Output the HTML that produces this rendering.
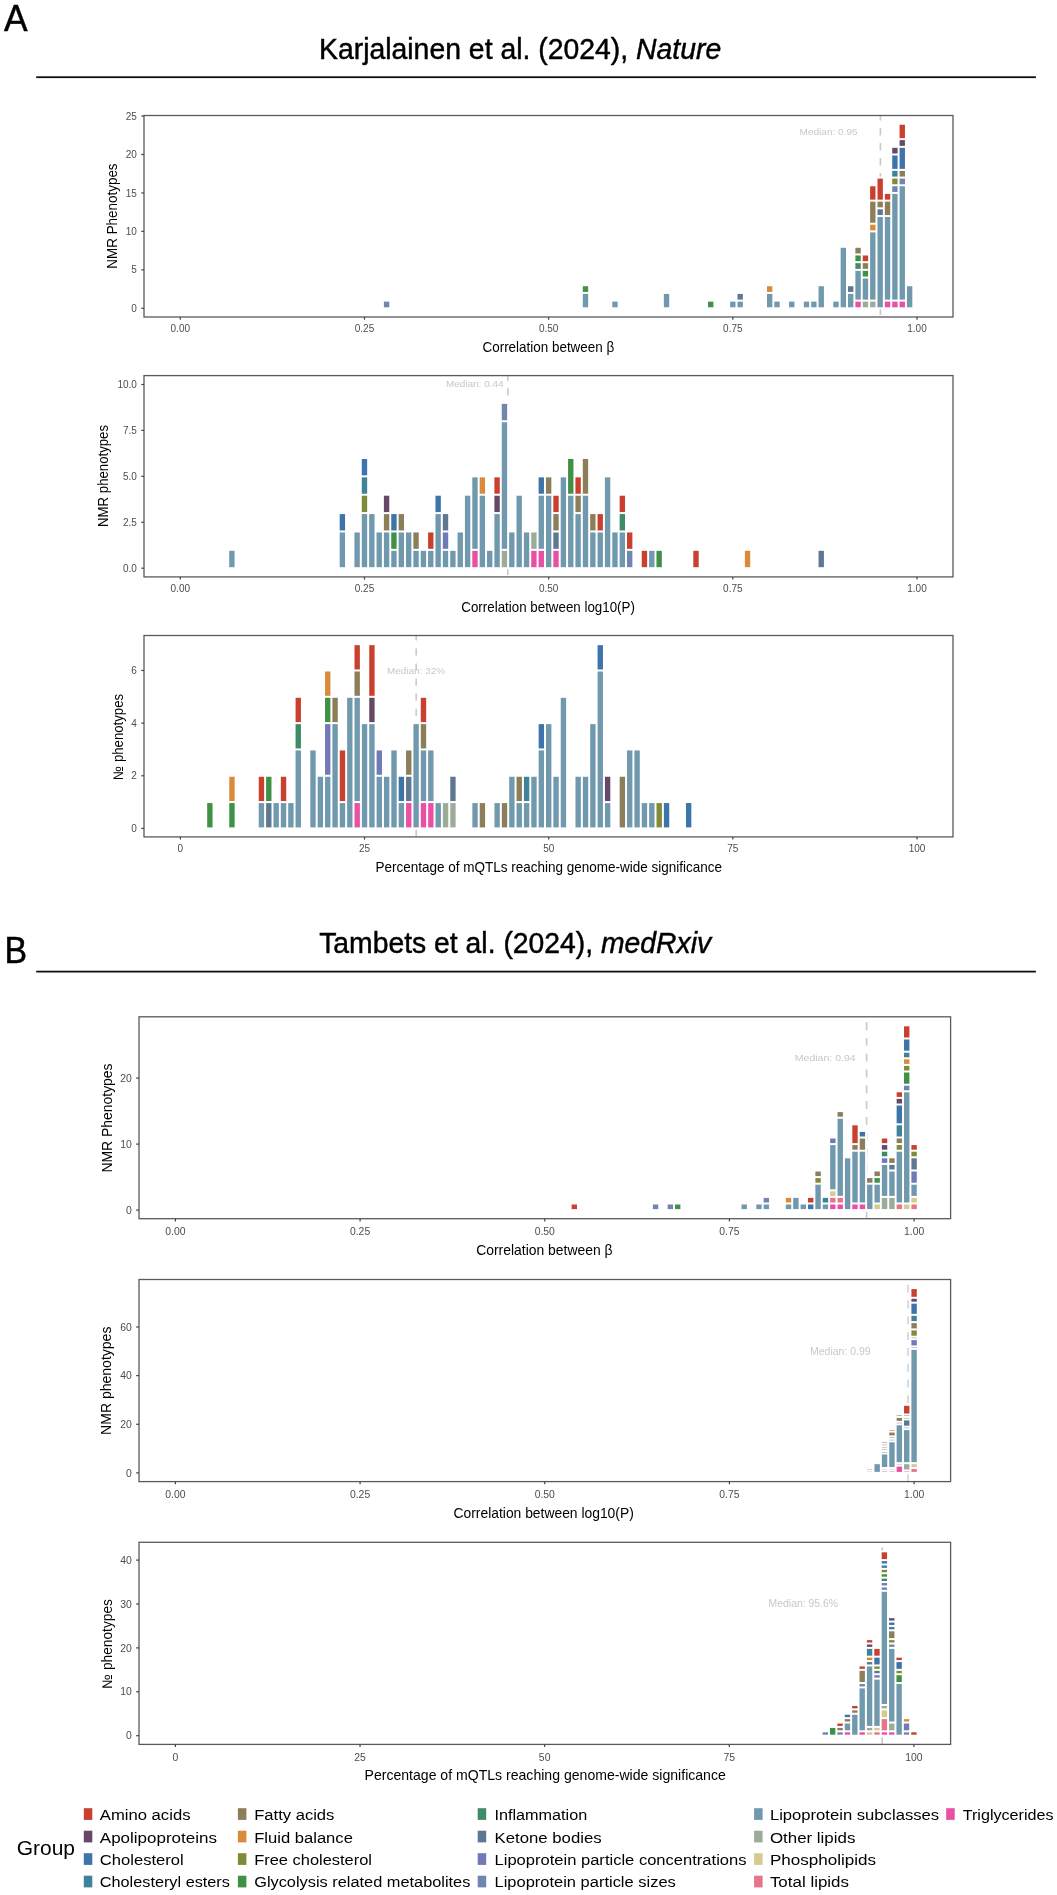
<!DOCTYPE html><html><head><meta charset="utf-8"><style>html,body{margin:0;padding:0;background:#fff;}svg{display:block;font-family:"Liberation Sans", sans-serif;will-change:transform;}</style></head><body>
<svg width="1057" height="1895" viewBox="0 0 1057 1895">
<rect x="0" y="0" width="1057" height="1895" fill="#fff"/>
<text x="4.00" y="30.70" font-size="37.50" fill="#000" text-anchor="start" textLength="23.60" lengthAdjust="spacingAndGlyphs" stroke="#000" stroke-width="0.5">A</text>
<text x="4.60" y="962.50" font-size="37.00" fill="#000" text-anchor="start" textLength="22.60" lengthAdjust="spacingAndGlyphs" stroke="#000" stroke-width="0.5">B</text>
<text x="319.0" y="58.7" font-size="28.6" fill="#000" stroke="#000" stroke-width="0.45" textLength="402.2" lengthAdjust="spacingAndGlyphs">Karjalainen et al. (2024), <tspan font-style="italic">Nature</tspan></text>
<text x="319.2" y="953.3" font-size="28.6" fill="#000" stroke="#000" stroke-width="0.45" textLength="392.0" lengthAdjust="spacingAndGlyphs">Tambets et al. (2024), <tspan font-style="italic">medRxiv</tspan></text>
<rect x="36.2" y="76.3" width="999.7" height="1.8" fill="#111"/>
<rect x="36.2" y="970.7" width="999.7" height="1.8" fill="#111"/>
<line x1="880.40" y1="115.50" x2="880.40" y2="317.00" stroke="#c9c9c9" stroke-width="1.60" stroke-dasharray="7.40 7.55" stroke-dashoffset="2.35"/>
<rect x="381.89" y="299.61" width="9.37" height="9.69" fill="#fff"/>
<rect x="580.80" y="284.23" width="9.37" height="25.07" fill="#fff"/>
<rect x="610.27" y="299.61" width="9.37" height="9.69" fill="#fff"/>
<rect x="661.84" y="291.92" width="9.37" height="17.38" fill="#fff"/>
<rect x="706.04" y="299.61" width="9.37" height="9.69" fill="#fff"/>
<rect x="728.14" y="299.61" width="9.37" height="9.69" fill="#fff"/>
<rect x="735.51" y="291.92" width="9.37" height="17.38" fill="#fff"/>
<rect x="764.98" y="284.23" width="9.37" height="25.07" fill="#fff"/>
<rect x="772.34" y="299.61" width="9.37" height="9.69" fill="#fff"/>
<rect x="787.08" y="299.61" width="9.37" height="9.69" fill="#fff"/>
<rect x="801.81" y="299.61" width="9.37" height="9.69" fill="#fff"/>
<rect x="809.18" y="299.61" width="9.37" height="9.69" fill="#fff"/>
<rect x="816.55" y="284.23" width="9.37" height="25.07" fill="#fff"/>
<rect x="831.28" y="299.61" width="9.37" height="9.69" fill="#fff"/>
<rect x="838.65" y="245.78" width="9.37" height="63.52" fill="#fff"/>
<rect x="846.01" y="284.23" width="9.37" height="25.07" fill="#fff"/>
<rect x="853.38" y="245.78" width="9.37" height="63.52" fill="#fff"/>
<rect x="860.75" y="253.47" width="9.37" height="55.83" fill="#fff"/>
<rect x="868.11" y="184.26" width="9.37" height="125.04" fill="#fff"/>
<rect x="875.48" y="176.57" width="9.37" height="132.73" fill="#fff"/>
<rect x="882.85" y="191.95" width="9.37" height="117.35" fill="#fff"/>
<rect x="890.22" y="145.81" width="9.37" height="163.49" fill="#fff"/>
<rect x="897.58" y="122.74" width="9.37" height="186.56" fill="#fff"/>
<rect x="904.95" y="284.23" width="9.37" height="25.07" fill="#fff"/>
<rect x="383.89" y="301.61" width="5.37" height="5.69" fill="#7086ae"/>
<rect x="582.80" y="293.92" width="5.37" height="13.38" fill="#7099ae"/>
<rect x="582.80" y="286.23" width="5.37" height="5.69" fill="#3f9146"/>
<rect x="612.27" y="301.61" width="5.37" height="5.69" fill="#7099ae"/>
<rect x="663.84" y="293.92" width="5.37" height="13.38" fill="#7099ae"/>
<rect x="708.04" y="301.61" width="5.37" height="5.69" fill="#3f9146"/>
<rect x="730.14" y="301.61" width="5.37" height="5.69" fill="#7099ae"/>
<rect x="737.51" y="301.61" width="5.37" height="5.69" fill="#7099ae"/>
<rect x="737.51" y="293.92" width="5.37" height="5.69" fill="#5e7892"/>
<rect x="766.98" y="293.92" width="5.37" height="13.38" fill="#7099ae"/>
<rect x="766.98" y="286.23" width="5.37" height="5.69" fill="#d98b3a"/>
<rect x="774.34" y="301.61" width="5.37" height="5.69" fill="#7099ae"/>
<rect x="789.08" y="301.61" width="5.37" height="5.69" fill="#7099ae"/>
<rect x="803.81" y="301.61" width="5.37" height="5.69" fill="#7099ae"/>
<rect x="811.18" y="301.61" width="5.37" height="5.69" fill="#7099ae"/>
<rect x="818.55" y="286.23" width="5.37" height="21.07" fill="#7099ae"/>
<rect x="833.28" y="301.61" width="5.37" height="5.69" fill="#7099ae"/>
<rect x="840.65" y="247.78" width="5.37" height="59.52" fill="#7099ae"/>
<rect x="848.01" y="293.92" width="5.37" height="13.38" fill="#7099ae"/>
<rect x="848.01" y="286.23" width="5.37" height="5.69" fill="#5e7892"/>
<rect x="855.38" y="301.61" width="5.37" height="5.69" fill="#e94fa4"/>
<rect x="855.38" y="270.85" width="5.37" height="28.76" fill="#7099ae"/>
<rect x="855.38" y="263.16" width="5.37" height="5.69" fill="#3e8b66"/>
<rect x="855.38" y="255.47" width="5.37" height="5.69" fill="#3f9146"/>
<rect x="855.38" y="247.78" width="5.37" height="5.69" fill="#8b7e58"/>
<rect x="862.75" y="301.61" width="5.37" height="5.69" fill="#9dac99"/>
<rect x="862.75" y="278.54" width="5.37" height="21.07" fill="#7099ae"/>
<rect x="862.75" y="270.85" width="5.37" height="5.69" fill="#3f9146"/>
<rect x="862.75" y="263.16" width="5.37" height="5.69" fill="#8b7e58"/>
<rect x="862.75" y="255.47" width="5.37" height="5.69" fill="#c9412e"/>
<rect x="870.11" y="301.61" width="5.37" height="5.69" fill="#9dac99"/>
<rect x="870.11" y="232.40" width="5.37" height="67.21" fill="#7099ae"/>
<rect x="870.11" y="224.71" width="5.37" height="5.69" fill="#d98b3a"/>
<rect x="870.11" y="201.64" width="5.37" height="21.07" fill="#8b7e58"/>
<rect x="870.11" y="186.26" width="5.37" height="13.38" fill="#c9412e"/>
<rect x="877.48" y="217.02" width="5.37" height="90.28" fill="#7099ae"/>
<rect x="877.48" y="209.33" width="5.37" height="5.69" fill="#5e7892"/>
<rect x="877.48" y="201.64" width="5.37" height="5.69" fill="#8b7e58"/>
<rect x="877.48" y="178.57" width="5.37" height="21.07" fill="#c9412e"/>
<rect x="884.85" y="301.61" width="5.37" height="5.69" fill="#e94fa4"/>
<rect x="884.85" y="217.02" width="5.37" height="82.59" fill="#7099ae"/>
<rect x="884.85" y="201.64" width="5.37" height="13.38" fill="#8b7e58"/>
<rect x="884.85" y="193.95" width="5.37" height="5.69" fill="#c9412e"/>
<rect x="892.22" y="301.61" width="5.37" height="5.69" fill="#e94fa4"/>
<rect x="892.22" y="193.95" width="5.37" height="105.66" fill="#7099ae"/>
<rect x="892.22" y="186.26" width="5.37" height="5.69" fill="#7086ae"/>
<rect x="892.22" y="178.57" width="5.37" height="5.69" fill="#808b37"/>
<rect x="892.22" y="170.88" width="5.37" height="5.69" fill="#3f8299"/>
<rect x="892.22" y="155.50" width="5.37" height="13.38" fill="#3d74aa"/>
<rect x="892.22" y="147.81" width="5.37" height="5.69" fill="#664966"/>
<rect x="899.58" y="301.61" width="5.37" height="5.69" fill="#e94fa4"/>
<rect x="899.58" y="186.26" width="5.37" height="113.35" fill="#7099ae"/>
<rect x="899.58" y="178.57" width="5.37" height="5.69" fill="#7086ae"/>
<rect x="899.58" y="170.88" width="5.37" height="5.69" fill="#8b7e58"/>
<rect x="899.58" y="147.81" width="5.37" height="21.07" fill="#3d74aa"/>
<rect x="899.58" y="140.12" width="5.37" height="5.69" fill="#664966"/>
<rect x="899.58" y="124.74" width="5.37" height="13.38" fill="#c9412e"/>
<rect x="906.95" y="286.23" width="5.37" height="21.07" fill="#7099ae"/>
<text x="799.60" y="134.60" font-size="9.80" fill="#c8c8c8" text-anchor="start" textLength="58.00" lengthAdjust="spacingAndGlyphs">Median: 0.95</text>
<rect x="144.00" y="115.50" width="809.00" height="201.50" fill="none" stroke="#5a5a5a" stroke-width="1.30"/>
<line x1="141.30" y1="308.30" x2="144.00" y2="308.30" stroke="#444" stroke-width="1.2"/>
<text x="136.90" y="311.90" font-size="10.00" fill="#4d4d4d" text-anchor="end">0</text>
<line x1="141.30" y1="269.85" x2="144.00" y2="269.85" stroke="#444" stroke-width="1.2"/>
<text x="136.90" y="273.45" font-size="10.00" fill="#4d4d4d" text-anchor="end">5</text>
<line x1="141.30" y1="231.40" x2="144.00" y2="231.40" stroke="#444" stroke-width="1.2"/>
<text x="136.90" y="235.00" font-size="10.00" fill="#4d4d4d" text-anchor="end">10</text>
<line x1="141.30" y1="192.95" x2="144.00" y2="192.95" stroke="#444" stroke-width="1.2"/>
<text x="136.90" y="196.55" font-size="10.00" fill="#4d4d4d" text-anchor="end">15</text>
<line x1="141.30" y1="154.50" x2="144.00" y2="154.50" stroke="#444" stroke-width="1.2"/>
<text x="136.90" y="158.10" font-size="10.00" fill="#4d4d4d" text-anchor="end">20</text>
<line x1="141.30" y1="116.05" x2="144.00" y2="116.05" stroke="#444" stroke-width="1.2"/>
<text x="136.90" y="119.65" font-size="10.00" fill="#4d4d4d" text-anchor="end">25</text>
<line x1="180.30" y1="317.00" x2="180.30" y2="319.70" stroke="#444" stroke-width="1.2"/>
<text x="180.30" y="331.90" font-size="10.00" fill="#4d4d4d" text-anchor="middle">0.00</text>
<line x1="364.48" y1="317.00" x2="364.48" y2="319.70" stroke="#444" stroke-width="1.2"/>
<text x="364.48" y="331.90" font-size="10.00" fill="#4d4d4d" text-anchor="middle">0.25</text>
<line x1="548.65" y1="317.00" x2="548.65" y2="319.70" stroke="#444" stroke-width="1.2"/>
<text x="548.65" y="331.90" font-size="10.00" fill="#4d4d4d" text-anchor="middle">0.50</text>
<line x1="732.83" y1="317.00" x2="732.83" y2="319.70" stroke="#444" stroke-width="1.2"/>
<text x="732.83" y="331.90" font-size="10.00" fill="#4d4d4d" text-anchor="middle">0.75</text>
<line x1="917.00" y1="317.00" x2="917.00" y2="319.70" stroke="#444" stroke-width="1.2"/>
<text x="917.00" y="331.90" font-size="10.00" fill="#4d4d4d" text-anchor="middle">1.00</text>
<text x="482.50" y="352.30" font-size="13.90" fill="#000" text-anchor="start" textLength="131.70" lengthAdjust="spacingAndGlyphs">Correlation between β</text>
<text x="0" y="0" font-size="13.9" fill="#000" transform="translate(117.30 268.70) rotate(-90)" textLength="105.30" lengthAdjust="spacingAndGlyphs">NMR Phenotypes</text>
<line x1="507.80" y1="375.60" x2="507.80" y2="576.90" stroke="#c9c9c9" stroke-width="1.60" stroke-dasharray="7.40 7.55" stroke-dashoffset="2.35"/>
<rect x="227.19" y="548.83" width="9.37" height="20.37" fill="#fff"/>
<rect x="337.69" y="512.09" width="9.37" height="57.11" fill="#fff"/>
<rect x="352.42" y="530.46" width="9.37" height="38.74" fill="#fff"/>
<rect x="359.79" y="456.98" width="9.37" height="112.22" fill="#fff"/>
<rect x="367.16" y="512.09" width="9.37" height="57.11" fill="#fff"/>
<rect x="374.53" y="530.46" width="9.37" height="38.74" fill="#fff"/>
<rect x="381.89" y="493.72" width="9.37" height="75.48" fill="#fff"/>
<rect x="389.26" y="512.09" width="9.37" height="57.11" fill="#fff"/>
<rect x="396.63" y="512.09" width="9.37" height="57.11" fill="#fff"/>
<rect x="403.99" y="530.46" width="9.37" height="38.74" fill="#fff"/>
<rect x="411.36" y="530.46" width="9.37" height="38.74" fill="#fff"/>
<rect x="418.73" y="548.83" width="9.37" height="20.37" fill="#fff"/>
<rect x="426.09" y="530.46" width="9.37" height="38.74" fill="#fff"/>
<rect x="433.46" y="493.72" width="9.37" height="75.48" fill="#fff"/>
<rect x="440.83" y="512.09" width="9.37" height="57.11" fill="#fff"/>
<rect x="448.20" y="548.83" width="9.37" height="20.37" fill="#fff"/>
<rect x="455.56" y="530.46" width="9.37" height="38.74" fill="#fff"/>
<rect x="462.93" y="493.72" width="9.37" height="75.48" fill="#fff"/>
<rect x="470.30" y="475.35" width="9.37" height="93.85" fill="#fff"/>
<rect x="477.66" y="475.35" width="9.37" height="93.85" fill="#fff"/>
<rect x="485.03" y="548.83" width="9.37" height="20.37" fill="#fff"/>
<rect x="492.40" y="475.35" width="9.37" height="93.85" fill="#fff"/>
<rect x="499.76" y="401.87" width="9.37" height="167.33" fill="#fff"/>
<rect x="507.13" y="530.46" width="9.37" height="38.74" fill="#fff"/>
<rect x="514.50" y="493.72" width="9.37" height="75.48" fill="#fff"/>
<rect x="521.87" y="530.46" width="9.37" height="38.74" fill="#fff"/>
<rect x="529.23" y="530.46" width="9.37" height="38.74" fill="#fff"/>
<rect x="536.60" y="475.35" width="9.37" height="93.85" fill="#fff"/>
<rect x="543.97" y="475.35" width="9.37" height="93.85" fill="#fff"/>
<rect x="551.33" y="493.72" width="9.37" height="75.48" fill="#fff"/>
<rect x="558.70" y="475.35" width="9.37" height="93.85" fill="#fff"/>
<rect x="566.07" y="456.98" width="9.37" height="112.22" fill="#fff"/>
<rect x="573.43" y="475.35" width="9.37" height="93.85" fill="#fff"/>
<rect x="580.80" y="456.98" width="9.37" height="112.22" fill="#fff"/>
<rect x="588.17" y="512.09" width="9.37" height="57.11" fill="#fff"/>
<rect x="595.54" y="512.09" width="9.37" height="57.11" fill="#fff"/>
<rect x="602.90" y="475.35" width="9.37" height="93.85" fill="#fff"/>
<rect x="610.27" y="530.46" width="9.37" height="38.74" fill="#fff"/>
<rect x="617.64" y="493.72" width="9.37" height="75.48" fill="#fff"/>
<rect x="625.00" y="530.46" width="9.37" height="38.74" fill="#fff"/>
<rect x="639.74" y="548.83" width="9.37" height="20.37" fill="#fff"/>
<rect x="647.10" y="548.83" width="9.37" height="20.37" fill="#fff"/>
<rect x="654.47" y="548.83" width="9.37" height="20.37" fill="#fff"/>
<rect x="691.31" y="548.83" width="9.37" height="20.37" fill="#fff"/>
<rect x="742.88" y="548.83" width="9.37" height="20.37" fill="#fff"/>
<rect x="816.55" y="548.83" width="9.37" height="20.37" fill="#fff"/>
<rect x="229.19" y="550.83" width="5.37" height="16.37" fill="#7099ae"/>
<rect x="339.69" y="532.46" width="5.37" height="34.74" fill="#7099ae"/>
<rect x="339.69" y="514.09" width="5.37" height="16.37" fill="#3d74aa"/>
<rect x="354.42" y="532.46" width="5.37" height="34.74" fill="#7099ae"/>
<rect x="361.79" y="514.09" width="5.37" height="53.11" fill="#7099ae"/>
<rect x="361.79" y="495.72" width="5.37" height="16.37" fill="#808b37"/>
<rect x="361.79" y="477.35" width="5.37" height="16.37" fill="#3f8299"/>
<rect x="361.79" y="458.98" width="5.37" height="16.37" fill="#3d74aa"/>
<rect x="369.16" y="514.09" width="5.37" height="53.11" fill="#7099ae"/>
<rect x="376.53" y="532.46" width="5.37" height="34.74" fill="#7099ae"/>
<rect x="383.89" y="532.46" width="5.37" height="34.74" fill="#7099ae"/>
<rect x="383.89" y="514.09" width="5.37" height="16.37" fill="#8b7e58"/>
<rect x="383.89" y="495.72" width="5.37" height="16.37" fill="#664966"/>
<rect x="391.26" y="550.83" width="5.37" height="16.37" fill="#7099ae"/>
<rect x="391.26" y="532.46" width="5.37" height="16.37" fill="#3f9146"/>
<rect x="391.26" y="514.09" width="5.37" height="16.37" fill="#3d74aa"/>
<rect x="398.63" y="532.46" width="5.37" height="34.74" fill="#7099ae"/>
<rect x="398.63" y="514.09" width="5.37" height="16.37" fill="#8b7e58"/>
<rect x="405.99" y="532.46" width="5.37" height="34.74" fill="#7099ae"/>
<rect x="413.36" y="550.83" width="5.37" height="16.37" fill="#7099ae"/>
<rect x="413.36" y="532.46" width="5.37" height="16.37" fill="#8b7e58"/>
<rect x="420.73" y="550.83" width="5.37" height="16.37" fill="#7099ae"/>
<rect x="428.09" y="550.83" width="5.37" height="16.37" fill="#7099ae"/>
<rect x="428.09" y="532.46" width="5.37" height="16.37" fill="#c9412e"/>
<rect x="435.46" y="514.09" width="5.37" height="53.11" fill="#7099ae"/>
<rect x="435.46" y="495.72" width="5.37" height="16.37" fill="#3d74aa"/>
<rect x="442.83" y="550.83" width="5.37" height="16.37" fill="#7099ae"/>
<rect x="442.83" y="532.46" width="5.37" height="16.37" fill="#7179b6"/>
<rect x="442.83" y="514.09" width="5.37" height="16.37" fill="#5e7892"/>
<rect x="450.20" y="550.83" width="5.37" height="16.37" fill="#7099ae"/>
<rect x="457.56" y="532.46" width="5.37" height="34.74" fill="#7099ae"/>
<rect x="464.93" y="495.72" width="5.37" height="71.48" fill="#7099ae"/>
<rect x="472.30" y="550.83" width="5.37" height="16.37" fill="#e94fa4"/>
<rect x="472.30" y="477.35" width="5.37" height="71.48" fill="#7099ae"/>
<rect x="479.66" y="495.72" width="5.37" height="71.48" fill="#7099ae"/>
<rect x="479.66" y="477.35" width="5.37" height="16.37" fill="#d98b3a"/>
<rect x="487.03" y="550.83" width="5.37" height="16.37" fill="#7099ae"/>
<rect x="494.40" y="514.09" width="5.37" height="53.11" fill="#7099ae"/>
<rect x="494.40" y="495.72" width="5.37" height="16.37" fill="#664966"/>
<rect x="494.40" y="477.35" width="5.37" height="16.37" fill="#c9412e"/>
<rect x="501.76" y="550.83" width="5.37" height="16.37" fill="#9dac99"/>
<rect x="501.76" y="422.24" width="5.37" height="126.59" fill="#7099ae"/>
<rect x="501.76" y="403.87" width="5.37" height="16.37" fill="#7086ae"/>
<rect x="509.13" y="532.46" width="5.37" height="34.74" fill="#7099ae"/>
<rect x="516.50" y="495.72" width="5.37" height="71.48" fill="#7099ae"/>
<rect x="523.87" y="532.46" width="5.37" height="34.74" fill="#7099ae"/>
<rect x="531.23" y="550.83" width="5.37" height="16.37" fill="#e94fa4"/>
<rect x="531.23" y="532.46" width="5.37" height="16.37" fill="#9dac99"/>
<rect x="538.60" y="550.83" width="5.37" height="16.37" fill="#e94fa4"/>
<rect x="538.60" y="495.72" width="5.37" height="53.11" fill="#7099ae"/>
<rect x="538.60" y="477.35" width="5.37" height="16.37" fill="#3d74aa"/>
<rect x="545.97" y="495.72" width="5.37" height="71.48" fill="#7099ae"/>
<rect x="545.97" y="477.35" width="5.37" height="16.37" fill="#8b7e58"/>
<rect x="553.33" y="550.83" width="5.37" height="16.37" fill="#e94fa4"/>
<rect x="553.33" y="532.46" width="5.37" height="16.37" fill="#5e7892"/>
<rect x="553.33" y="514.09" width="5.37" height="16.37" fill="#8b7e58"/>
<rect x="553.33" y="495.72" width="5.37" height="16.37" fill="#c9412e"/>
<rect x="560.70" y="477.35" width="5.37" height="89.85" fill="#7099ae"/>
<rect x="568.07" y="495.72" width="5.37" height="71.48" fill="#7099ae"/>
<rect x="568.07" y="458.98" width="5.37" height="34.74" fill="#3f9146"/>
<rect x="575.43" y="514.09" width="5.37" height="53.11" fill="#7099ae"/>
<rect x="575.43" y="495.72" width="5.37" height="16.37" fill="#8b7e58"/>
<rect x="575.43" y="477.35" width="5.37" height="16.37" fill="#c9412e"/>
<rect x="582.80" y="495.72" width="5.37" height="71.48" fill="#7099ae"/>
<rect x="582.80" y="458.98" width="5.37" height="34.74" fill="#8b7e58"/>
<rect x="590.17" y="532.46" width="5.37" height="34.74" fill="#7099ae"/>
<rect x="590.17" y="514.09" width="5.37" height="16.37" fill="#8b7e58"/>
<rect x="597.54" y="532.46" width="5.37" height="34.74" fill="#7099ae"/>
<rect x="597.54" y="514.09" width="5.37" height="16.37" fill="#c9412e"/>
<rect x="604.90" y="477.35" width="5.37" height="89.85" fill="#7099ae"/>
<rect x="612.27" y="532.46" width="5.37" height="34.74" fill="#7099ae"/>
<rect x="619.64" y="532.46" width="5.37" height="34.74" fill="#7099ae"/>
<rect x="619.64" y="514.09" width="5.37" height="16.37" fill="#3e8b66"/>
<rect x="619.64" y="495.72" width="5.37" height="16.37" fill="#c9412e"/>
<rect x="627.00" y="550.83" width="5.37" height="16.37" fill="#7086ae"/>
<rect x="627.00" y="532.46" width="5.37" height="16.37" fill="#c9412e"/>
<rect x="641.74" y="550.83" width="5.37" height="16.37" fill="#c9412e"/>
<rect x="649.10" y="550.83" width="5.37" height="16.37" fill="#7099ae"/>
<rect x="656.47" y="550.83" width="5.37" height="16.37" fill="#3f9146"/>
<rect x="693.31" y="550.83" width="5.37" height="16.37" fill="#c9412e"/>
<rect x="744.88" y="550.83" width="5.37" height="16.37" fill="#d98b3a"/>
<rect x="818.55" y="550.83" width="5.37" height="16.37" fill="#5e7892"/>
<text x="445.90" y="387.00" font-size="9.80" fill="#c8c8c8" text-anchor="start" textLength="57.70" lengthAdjust="spacingAndGlyphs">Median: 0.44</text>
<rect x="144.00" y="375.60" width="809.00" height="201.30" fill="none" stroke="#5a5a5a" stroke-width="1.30"/>
<line x1="141.30" y1="568.20" x2="144.00" y2="568.20" stroke="#444" stroke-width="1.2"/>
<text x="136.90" y="571.80" font-size="10.00" fill="#4d4d4d" text-anchor="end">0.0</text>
<line x1="141.30" y1="522.28" x2="144.00" y2="522.28" stroke="#444" stroke-width="1.2"/>
<text x="136.90" y="525.88" font-size="10.00" fill="#4d4d4d" text-anchor="end">2.5</text>
<line x1="141.30" y1="476.35" x2="144.00" y2="476.35" stroke="#444" stroke-width="1.2"/>
<text x="136.90" y="479.95" font-size="10.00" fill="#4d4d4d" text-anchor="end">5.0</text>
<line x1="141.30" y1="430.43" x2="144.00" y2="430.43" stroke="#444" stroke-width="1.2"/>
<text x="136.90" y="434.03" font-size="10.00" fill="#4d4d4d" text-anchor="end">7.5</text>
<line x1="141.30" y1="384.50" x2="144.00" y2="384.50" stroke="#444" stroke-width="1.2"/>
<text x="136.90" y="388.10" font-size="10.00" fill="#4d4d4d" text-anchor="end">10.0</text>
<line x1="180.30" y1="576.90" x2="180.30" y2="579.60" stroke="#444" stroke-width="1.2"/>
<text x="180.30" y="592.40" font-size="10.00" fill="#4d4d4d" text-anchor="middle">0.00</text>
<line x1="364.48" y1="576.90" x2="364.48" y2="579.60" stroke="#444" stroke-width="1.2"/>
<text x="364.48" y="592.40" font-size="10.00" fill="#4d4d4d" text-anchor="middle">0.25</text>
<line x1="548.65" y1="576.90" x2="548.65" y2="579.60" stroke="#444" stroke-width="1.2"/>
<text x="548.65" y="592.40" font-size="10.00" fill="#4d4d4d" text-anchor="middle">0.50</text>
<line x1="732.83" y1="576.90" x2="732.83" y2="579.60" stroke="#444" stroke-width="1.2"/>
<text x="732.83" y="592.40" font-size="10.00" fill="#4d4d4d" text-anchor="middle">0.75</text>
<line x1="917.00" y1="576.90" x2="917.00" y2="579.60" stroke="#444" stroke-width="1.2"/>
<text x="917.00" y="592.40" font-size="10.00" fill="#4d4d4d" text-anchor="middle">1.00</text>
<text x="461.30" y="612.40" font-size="13.90" fill="#000" text-anchor="start" textLength="173.60" lengthAdjust="spacingAndGlyphs">Correlation between log10(P)</text>
<text x="0" y="0" font-size="13.9" fill="#000" transform="translate(108.20 526.90) rotate(-90)" textLength="101.90" lengthAdjust="spacingAndGlyphs">NMR phenotypes</text>
<line x1="416.20" y1="635.50" x2="416.20" y2="836.90" stroke="#c9c9c9" stroke-width="1.60" stroke-dasharray="7.20 7.90" stroke-dashoffset="2.30"/>
<rect x="205.18" y="801.08" width="9.37" height="28.32" fill="#fff"/>
<rect x="227.28" y="774.76" width="9.37" height="54.64" fill="#fff"/>
<rect x="256.74" y="774.76" width="9.37" height="54.64" fill="#fff"/>
<rect x="264.11" y="774.76" width="9.37" height="54.64" fill="#fff"/>
<rect x="271.48" y="801.08" width="9.37" height="28.32" fill="#fff"/>
<rect x="278.84" y="774.76" width="9.37" height="54.64" fill="#fff"/>
<rect x="286.21" y="801.08" width="9.37" height="28.32" fill="#fff"/>
<rect x="293.57" y="695.80" width="9.37" height="133.60" fill="#fff"/>
<rect x="308.31" y="748.44" width="9.37" height="80.96" fill="#fff"/>
<rect x="315.67" y="774.76" width="9.37" height="54.64" fill="#fff"/>
<rect x="323.04" y="669.48" width="9.37" height="159.92" fill="#fff"/>
<rect x="330.40" y="695.80" width="9.37" height="133.60" fill="#fff"/>
<rect x="337.77" y="748.44" width="9.37" height="80.96" fill="#fff"/>
<rect x="345.13" y="695.80" width="9.37" height="133.60" fill="#fff"/>
<rect x="352.50" y="643.16" width="9.37" height="186.24" fill="#fff"/>
<rect x="359.87" y="722.12" width="9.37" height="107.28" fill="#fff"/>
<rect x="367.23" y="643.16" width="9.37" height="186.24" fill="#fff"/>
<rect x="374.60" y="748.44" width="9.37" height="80.96" fill="#fff"/>
<rect x="381.97" y="774.76" width="9.37" height="54.64" fill="#fff"/>
<rect x="389.33" y="748.44" width="9.37" height="80.96" fill="#fff"/>
<rect x="396.70" y="774.76" width="9.37" height="54.64" fill="#fff"/>
<rect x="404.06" y="748.44" width="9.37" height="80.96" fill="#fff"/>
<rect x="411.43" y="722.12" width="9.37" height="107.28" fill="#fff"/>
<rect x="418.79" y="695.80" width="9.37" height="133.60" fill="#fff"/>
<rect x="426.16" y="748.44" width="9.37" height="80.96" fill="#fff"/>
<rect x="433.53" y="801.08" width="9.37" height="28.32" fill="#fff"/>
<rect x="440.89" y="801.08" width="9.37" height="28.32" fill="#fff"/>
<rect x="448.26" y="774.76" width="9.37" height="54.64" fill="#fff"/>
<rect x="470.36" y="801.08" width="9.37" height="28.32" fill="#fff"/>
<rect x="477.72" y="801.08" width="9.37" height="28.32" fill="#fff"/>
<rect x="492.46" y="801.08" width="9.37" height="28.32" fill="#fff"/>
<rect x="499.82" y="801.08" width="9.37" height="28.32" fill="#fff"/>
<rect x="507.19" y="774.76" width="9.37" height="54.64" fill="#fff"/>
<rect x="514.55" y="774.76" width="9.37" height="54.64" fill="#fff"/>
<rect x="521.92" y="774.76" width="9.37" height="54.64" fill="#fff"/>
<rect x="529.28" y="774.76" width="9.37" height="54.64" fill="#fff"/>
<rect x="536.65" y="722.12" width="9.37" height="107.28" fill="#fff"/>
<rect x="544.02" y="722.12" width="9.37" height="107.28" fill="#fff"/>
<rect x="551.38" y="774.76" width="9.37" height="54.64" fill="#fff"/>
<rect x="558.75" y="695.80" width="9.37" height="133.60" fill="#fff"/>
<rect x="573.48" y="774.76" width="9.37" height="54.64" fill="#fff"/>
<rect x="580.85" y="774.76" width="9.37" height="54.64" fill="#fff"/>
<rect x="588.21" y="722.12" width="9.37" height="107.28" fill="#fff"/>
<rect x="595.58" y="643.16" width="9.37" height="186.24" fill="#fff"/>
<rect x="602.94" y="774.76" width="9.37" height="54.64" fill="#fff"/>
<rect x="617.68" y="774.76" width="9.37" height="54.64" fill="#fff"/>
<rect x="625.04" y="748.44" width="9.37" height="80.96" fill="#fff"/>
<rect x="632.41" y="748.44" width="9.37" height="80.96" fill="#fff"/>
<rect x="639.77" y="801.08" width="9.37" height="28.32" fill="#fff"/>
<rect x="647.14" y="801.08" width="9.37" height="28.32" fill="#fff"/>
<rect x="654.51" y="801.08" width="9.37" height="28.32" fill="#fff"/>
<rect x="661.87" y="801.08" width="9.37" height="28.32" fill="#fff"/>
<rect x="683.97" y="801.08" width="9.37" height="28.32" fill="#fff"/>
<rect x="207.18" y="803.08" width="5.37" height="24.32" fill="#3f9146"/>
<rect x="229.28" y="803.08" width="5.37" height="24.32" fill="#3f9146"/>
<rect x="229.28" y="776.76" width="5.37" height="24.32" fill="#d98b3a"/>
<rect x="258.74" y="803.08" width="5.37" height="24.32" fill="#7099ae"/>
<rect x="258.74" y="776.76" width="5.37" height="24.32" fill="#c9412e"/>
<rect x="266.11" y="803.08" width="5.37" height="24.32" fill="#5e7892"/>
<rect x="266.11" y="776.76" width="5.37" height="24.32" fill="#3f9146"/>
<rect x="273.48" y="803.08" width="5.37" height="24.32" fill="#7099ae"/>
<rect x="280.84" y="803.08" width="5.37" height="24.32" fill="#7099ae"/>
<rect x="280.84" y="776.76" width="5.37" height="24.32" fill="#c9412e"/>
<rect x="288.21" y="803.08" width="5.37" height="24.32" fill="#7099ae"/>
<rect x="295.57" y="750.44" width="5.37" height="76.96" fill="#7099ae"/>
<rect x="295.57" y="724.12" width="5.37" height="24.32" fill="#3e8b66"/>
<rect x="295.57" y="697.80" width="5.37" height="24.32" fill="#c9412e"/>
<rect x="310.31" y="750.44" width="5.37" height="76.96" fill="#7099ae"/>
<rect x="317.67" y="776.76" width="5.37" height="50.64" fill="#7099ae"/>
<rect x="325.04" y="776.76" width="5.37" height="50.64" fill="#7099ae"/>
<rect x="325.04" y="724.12" width="5.37" height="50.64" fill="#7179b6"/>
<rect x="325.04" y="697.80" width="5.37" height="24.32" fill="#3f9146"/>
<rect x="325.04" y="671.48" width="5.37" height="24.32" fill="#d98b3a"/>
<rect x="332.40" y="724.12" width="5.37" height="103.28" fill="#7099ae"/>
<rect x="332.40" y="697.80" width="5.37" height="24.32" fill="#8b7e58"/>
<rect x="339.77" y="803.08" width="5.37" height="24.32" fill="#7099ae"/>
<rect x="339.77" y="750.44" width="5.37" height="50.64" fill="#c9412e"/>
<rect x="347.13" y="697.80" width="5.37" height="129.60" fill="#7099ae"/>
<rect x="354.50" y="803.08" width="5.37" height="24.32" fill="#e94fa4"/>
<rect x="354.50" y="697.80" width="5.37" height="103.28" fill="#7099ae"/>
<rect x="354.50" y="671.48" width="5.37" height="24.32" fill="#8b7e58"/>
<rect x="354.50" y="645.16" width="5.37" height="24.32" fill="#c9412e"/>
<rect x="361.87" y="724.12" width="5.37" height="103.28" fill="#7099ae"/>
<rect x="369.23" y="724.12" width="5.37" height="103.28" fill="#7099ae"/>
<rect x="369.23" y="697.80" width="5.37" height="24.32" fill="#664966"/>
<rect x="369.23" y="645.16" width="5.37" height="50.64" fill="#c9412e"/>
<rect x="376.60" y="776.76" width="5.37" height="50.64" fill="#7099ae"/>
<rect x="376.60" y="750.44" width="5.37" height="24.32" fill="#7179b6"/>
<rect x="383.97" y="776.76" width="5.37" height="50.64" fill="#7099ae"/>
<rect x="391.33" y="750.44" width="5.37" height="76.96" fill="#7099ae"/>
<rect x="398.70" y="803.08" width="5.37" height="24.32" fill="#7099ae"/>
<rect x="398.70" y="776.76" width="5.37" height="24.32" fill="#3d74aa"/>
<rect x="406.06" y="803.08" width="5.37" height="24.32" fill="#e94fa4"/>
<rect x="406.06" y="776.76" width="5.37" height="24.32" fill="#5e7892"/>
<rect x="406.06" y="750.44" width="5.37" height="24.32" fill="#8b7e58"/>
<rect x="413.43" y="724.12" width="5.37" height="103.28" fill="#7099ae"/>
<rect x="420.79" y="803.08" width="5.37" height="24.32" fill="#e94fa4"/>
<rect x="420.79" y="750.44" width="5.37" height="50.64" fill="#7099ae"/>
<rect x="420.79" y="724.12" width="5.37" height="24.32" fill="#8b7e58"/>
<rect x="420.79" y="697.80" width="5.37" height="24.32" fill="#c9412e"/>
<rect x="428.16" y="803.08" width="5.37" height="24.32" fill="#e94fa4"/>
<rect x="428.16" y="750.44" width="5.37" height="50.64" fill="#7099ae"/>
<rect x="435.53" y="803.08" width="5.37" height="24.32" fill="#7099ae"/>
<rect x="442.89" y="803.08" width="5.37" height="24.32" fill="#9dac99"/>
<rect x="450.26" y="803.08" width="5.37" height="24.32" fill="#9dac99"/>
<rect x="450.26" y="776.76" width="5.37" height="24.32" fill="#5e7892"/>
<rect x="472.36" y="803.08" width="5.37" height="24.32" fill="#7099ae"/>
<rect x="479.72" y="803.08" width="5.37" height="24.32" fill="#8b7e58"/>
<rect x="494.46" y="803.08" width="5.37" height="24.32" fill="#7099ae"/>
<rect x="501.82" y="803.08" width="5.37" height="24.32" fill="#8b7e58"/>
<rect x="509.19" y="776.76" width="5.37" height="50.64" fill="#7099ae"/>
<rect x="516.55" y="803.08" width="5.37" height="24.32" fill="#7099ae"/>
<rect x="516.55" y="776.76" width="5.37" height="24.32" fill="#8b7e58"/>
<rect x="523.92" y="803.08" width="5.37" height="24.32" fill="#7099ae"/>
<rect x="523.92" y="776.76" width="5.37" height="24.32" fill="#3f8299"/>
<rect x="531.28" y="776.76" width="5.37" height="50.64" fill="#7099ae"/>
<rect x="538.65" y="750.44" width="5.37" height="76.96" fill="#7099ae"/>
<rect x="538.65" y="724.12" width="5.37" height="24.32" fill="#3d74aa"/>
<rect x="546.02" y="724.12" width="5.37" height="103.28" fill="#7099ae"/>
<rect x="553.38" y="776.76" width="5.37" height="50.64" fill="#7099ae"/>
<rect x="560.75" y="697.80" width="5.37" height="129.60" fill="#7099ae"/>
<rect x="575.48" y="776.76" width="5.37" height="50.64" fill="#7099ae"/>
<rect x="582.85" y="776.76" width="5.37" height="50.64" fill="#7099ae"/>
<rect x="590.21" y="724.12" width="5.37" height="103.28" fill="#7099ae"/>
<rect x="597.58" y="671.48" width="5.37" height="155.92" fill="#7099ae"/>
<rect x="597.58" y="645.16" width="5.37" height="24.32" fill="#3d74aa"/>
<rect x="604.94" y="803.08" width="5.37" height="24.32" fill="#7099ae"/>
<rect x="604.94" y="776.76" width="5.37" height="24.32" fill="#664966"/>
<rect x="619.68" y="776.76" width="5.37" height="50.64" fill="#8b7e58"/>
<rect x="627.04" y="750.44" width="5.37" height="76.96" fill="#7099ae"/>
<rect x="634.41" y="750.44" width="5.37" height="76.96" fill="#7099ae"/>
<rect x="641.77" y="803.08" width="5.37" height="24.32" fill="#7099ae"/>
<rect x="649.14" y="803.08" width="5.37" height="24.32" fill="#7099ae"/>
<rect x="656.51" y="803.08" width="5.37" height="24.32" fill="#808b37"/>
<rect x="663.87" y="803.08" width="5.37" height="24.32" fill="#3d74aa"/>
<rect x="685.97" y="803.08" width="5.37" height="24.32" fill="#3d74aa"/>
<text x="387.00" y="673.80" font-size="9.80" fill="#c8c8c8" text-anchor="start" textLength="58.10" lengthAdjust="spacingAndGlyphs">Median: 32%</text>
<rect x="144.00" y="635.50" width="809.00" height="201.40" fill="none" stroke="#5a5a5a" stroke-width="1.30"/>
<line x1="141.30" y1="828.40" x2="144.00" y2="828.40" stroke="#444" stroke-width="1.2"/>
<text x="136.90" y="832.00" font-size="10.00" fill="#4d4d4d" text-anchor="end">0</text>
<line x1="141.30" y1="775.76" x2="144.00" y2="775.76" stroke="#444" stroke-width="1.2"/>
<text x="136.90" y="779.36" font-size="10.00" fill="#4d4d4d" text-anchor="end">2</text>
<line x1="141.30" y1="723.12" x2="144.00" y2="723.12" stroke="#444" stroke-width="1.2"/>
<text x="136.90" y="726.72" font-size="10.00" fill="#4d4d4d" text-anchor="end">4</text>
<line x1="141.30" y1="670.48" x2="144.00" y2="670.48" stroke="#444" stroke-width="1.2"/>
<text x="136.90" y="674.08" font-size="10.00" fill="#4d4d4d" text-anchor="end">6</text>
<line x1="180.40" y1="836.90" x2="180.40" y2="839.60" stroke="#444" stroke-width="1.2"/>
<text x="180.40" y="852.40" font-size="10.00" fill="#4d4d4d" text-anchor="middle">0</text>
<line x1="364.55" y1="836.90" x2="364.55" y2="839.60" stroke="#444" stroke-width="1.2"/>
<text x="364.55" y="852.40" font-size="10.00" fill="#4d4d4d" text-anchor="middle">25</text>
<line x1="548.70" y1="836.90" x2="548.70" y2="839.60" stroke="#444" stroke-width="1.2"/>
<text x="548.70" y="852.40" font-size="10.00" fill="#4d4d4d" text-anchor="middle">50</text>
<line x1="732.85" y1="836.90" x2="732.85" y2="839.60" stroke="#444" stroke-width="1.2"/>
<text x="732.85" y="852.40" font-size="10.00" fill="#4d4d4d" text-anchor="middle">75</text>
<line x1="917.00" y1="836.90" x2="917.00" y2="839.60" stroke="#444" stroke-width="1.2"/>
<text x="917.00" y="852.40" font-size="10.00" fill="#4d4d4d" text-anchor="middle">100</text>
<text x="375.50" y="871.60" font-size="13.90" fill="#000" text-anchor="start" textLength="346.50" lengthAdjust="spacingAndGlyphs">Percentage of mQTLs reaching genome-wide significance</text>
<text x="0" y="0" font-size="13.9" fill="#000" transform="translate(122.60 779.90) rotate(-90)" textLength="86.00" lengthAdjust="spacingAndGlyphs">№ phenotypes</text>
<line x1="866.60" y1="1016.80" x2="866.60" y2="1218.70" stroke="#c9c9c9" stroke-width="1.60" stroke-dasharray="7.90 7.90" stroke-dashoffset="10.50"/>
<rect x="569.60" y="1202.50" width="9.39" height="8.60" fill="#fff"/>
<rect x="650.86" y="1202.50" width="9.39" height="8.60" fill="#fff"/>
<rect x="665.64" y="1202.50" width="9.39" height="8.60" fill="#fff"/>
<rect x="673.02" y="1202.50" width="9.39" height="8.60" fill="#fff"/>
<rect x="739.51" y="1202.50" width="9.39" height="8.60" fill="#fff"/>
<rect x="754.28" y="1202.50" width="9.39" height="8.60" fill="#fff"/>
<rect x="761.67" y="1195.90" width="9.39" height="15.20" fill="#fff"/>
<rect x="783.83" y="1195.90" width="9.39" height="15.20" fill="#fff"/>
<rect x="791.21" y="1195.90" width="9.39" height="15.20" fill="#fff"/>
<rect x="798.60" y="1202.50" width="9.39" height="8.60" fill="#fff"/>
<rect x="805.99" y="1195.90" width="9.39" height="15.20" fill="#fff"/>
<rect x="813.38" y="1169.50" width="9.39" height="41.60" fill="#fff"/>
<rect x="820.76" y="1195.90" width="9.39" height="15.20" fill="#fff"/>
<rect x="828.15" y="1136.50" width="9.39" height="74.60" fill="#fff"/>
<rect x="835.54" y="1110.10" width="9.39" height="101.00" fill="#fff"/>
<rect x="842.92" y="1156.30" width="9.39" height="54.80" fill="#fff"/>
<rect x="850.31" y="1123.30" width="9.39" height="87.80" fill="#fff"/>
<rect x="857.70" y="1129.90" width="9.39" height="81.20" fill="#fff"/>
<rect x="865.08" y="1176.10" width="9.39" height="35.00" fill="#fff"/>
<rect x="872.47" y="1169.50" width="9.39" height="41.60" fill="#fff"/>
<rect x="879.86" y="1136.50" width="9.39" height="74.60" fill="#fff"/>
<rect x="887.25" y="1156.30" width="9.39" height="54.80" fill="#fff"/>
<rect x="894.63" y="1090.30" width="9.39" height="120.80" fill="#fff"/>
<rect x="902.02" y="1024.30" width="9.39" height="186.80" fill="#fff"/>
<rect x="909.41" y="1143.10" width="9.39" height="68.00" fill="#fff"/>
<rect x="571.60" y="1204.50" width="5.39" height="4.60" fill="#c9412e"/>
<rect x="652.86" y="1204.50" width="5.39" height="4.60" fill="#7086ae"/>
<rect x="667.64" y="1204.50" width="5.39" height="4.60" fill="#7086ae"/>
<rect x="675.02" y="1204.50" width="5.39" height="4.60" fill="#3f9146"/>
<rect x="741.51" y="1204.50" width="5.39" height="4.60" fill="#7099ae"/>
<rect x="756.28" y="1204.50" width="5.39" height="4.60" fill="#7099ae"/>
<rect x="763.67" y="1204.50" width="5.39" height="4.60" fill="#7099ae"/>
<rect x="763.67" y="1197.90" width="5.39" height="4.60" fill="#7086ae"/>
<rect x="785.83" y="1204.50" width="5.39" height="4.60" fill="#7099ae"/>
<rect x="785.83" y="1197.90" width="5.39" height="4.60" fill="#d98b3a"/>
<rect x="793.21" y="1197.90" width="5.39" height="11.20" fill="#7099ae"/>
<rect x="800.60" y="1204.50" width="5.39" height="4.60" fill="#7099ae"/>
<rect x="807.99" y="1204.50" width="5.39" height="4.60" fill="#3d74aa"/>
<rect x="807.99" y="1197.90" width="5.39" height="4.60" fill="#c9412e"/>
<rect x="815.38" y="1184.70" width="5.39" height="24.40" fill="#7099ae"/>
<rect x="815.38" y="1178.10" width="5.39" height="4.60" fill="#808b37"/>
<rect x="815.38" y="1171.50" width="5.39" height="4.60" fill="#8b7e58"/>
<rect x="822.76" y="1204.50" width="5.39" height="4.60" fill="#7099ae"/>
<rect x="822.76" y="1197.90" width="5.39" height="4.60" fill="#3f8299"/>
<rect x="830.15" y="1204.50" width="5.39" height="4.60" fill="#e94fa4"/>
<rect x="830.15" y="1197.90" width="5.39" height="4.60" fill="#e6758c"/>
<rect x="830.15" y="1191.30" width="5.39" height="4.60" fill="#d6cb8c"/>
<rect x="830.15" y="1145.10" width="5.39" height="44.20" fill="#7099ae"/>
<rect x="830.15" y="1138.50" width="5.39" height="4.60" fill="#7179b6"/>
<rect x="837.54" y="1204.50" width="5.39" height="4.60" fill="#e94fa4"/>
<rect x="837.54" y="1197.90" width="5.39" height="4.60" fill="#e6758c"/>
<rect x="837.54" y="1118.70" width="5.39" height="77.20" fill="#7099ae"/>
<rect x="837.54" y="1112.10" width="5.39" height="4.60" fill="#8b7e58"/>
<rect x="844.92" y="1158.30" width="5.39" height="50.80" fill="#7099ae"/>
<rect x="852.31" y="1204.50" width="5.39" height="4.60" fill="#e94fa4"/>
<rect x="852.31" y="1151.70" width="5.39" height="50.80" fill="#7099ae"/>
<rect x="852.31" y="1145.10" width="5.39" height="4.60" fill="#8b7e58"/>
<rect x="852.31" y="1125.30" width="5.39" height="17.80" fill="#c9412e"/>
<rect x="859.70" y="1204.50" width="5.39" height="4.60" fill="#e94fa4"/>
<rect x="859.70" y="1151.70" width="5.39" height="50.80" fill="#7099ae"/>
<rect x="859.70" y="1138.50" width="5.39" height="11.20" fill="#8b7e58"/>
<rect x="859.70" y="1131.90" width="5.39" height="4.60" fill="#3d74aa"/>
<rect x="867.08" y="1184.70" width="5.39" height="24.40" fill="#7099ae"/>
<rect x="867.08" y="1178.10" width="5.39" height="4.60" fill="#8b7e58"/>
<rect x="874.47" y="1204.50" width="5.39" height="4.60" fill="#d6cb8c"/>
<rect x="874.47" y="1184.70" width="5.39" height="17.80" fill="#7099ae"/>
<rect x="874.47" y="1178.10" width="5.39" height="4.60" fill="#3f9146"/>
<rect x="874.47" y="1171.50" width="5.39" height="4.60" fill="#8b7e58"/>
<rect x="881.86" y="1197.90" width="5.39" height="11.20" fill="#9dac99"/>
<rect x="881.86" y="1164.90" width="5.39" height="31.00" fill="#7099ae"/>
<rect x="881.86" y="1158.30" width="5.39" height="4.60" fill="#7179b6"/>
<rect x="881.86" y="1151.70" width="5.39" height="4.60" fill="#3e8b66"/>
<rect x="881.86" y="1145.10" width="5.39" height="4.60" fill="#664966"/>
<rect x="881.86" y="1138.50" width="5.39" height="4.60" fill="#c9412e"/>
<rect x="889.25" y="1197.90" width="5.39" height="11.20" fill="#9dac99"/>
<rect x="889.25" y="1171.50" width="5.39" height="24.40" fill="#7099ae"/>
<rect x="889.25" y="1164.90" width="5.39" height="4.60" fill="#5e7892"/>
<rect x="889.25" y="1158.30" width="5.39" height="4.60" fill="#8b7e58"/>
<rect x="896.63" y="1204.50" width="5.39" height="4.60" fill="#e6758c"/>
<rect x="896.63" y="1151.70" width="5.39" height="50.80" fill="#7099ae"/>
<rect x="896.63" y="1145.10" width="5.39" height="4.60" fill="#808b37"/>
<rect x="896.63" y="1138.50" width="5.39" height="4.60" fill="#8b7e58"/>
<rect x="896.63" y="1125.30" width="5.39" height="11.20" fill="#3f8299"/>
<rect x="896.63" y="1105.50" width="5.39" height="17.80" fill="#3d74aa"/>
<rect x="896.63" y="1098.90" width="5.39" height="4.60" fill="#664966"/>
<rect x="896.63" y="1092.30" width="5.39" height="4.60" fill="#c9412e"/>
<rect x="904.02" y="1204.50" width="5.39" height="4.60" fill="#d6cb8c"/>
<rect x="904.02" y="1092.30" width="5.39" height="110.20" fill="#7099ae"/>
<rect x="904.02" y="1085.70" width="5.39" height="4.60" fill="#7086ae"/>
<rect x="904.02" y="1072.50" width="5.39" height="11.20" fill="#3f9146"/>
<rect x="904.02" y="1065.90" width="5.39" height="4.60" fill="#808b37"/>
<rect x="904.02" y="1059.30" width="5.39" height="4.60" fill="#d98b3a"/>
<rect x="904.02" y="1052.70" width="5.39" height="4.60" fill="#3f8299"/>
<rect x="904.02" y="1039.50" width="5.39" height="11.20" fill="#3d74aa"/>
<rect x="904.02" y="1026.30" width="5.39" height="11.20" fill="#c9412e"/>
<rect x="911.41" y="1204.50" width="5.39" height="4.60" fill="#e6758c"/>
<rect x="911.41" y="1197.90" width="5.39" height="4.60" fill="#d6cb8c"/>
<rect x="911.41" y="1184.70" width="5.39" height="11.20" fill="#7099ae"/>
<rect x="911.41" y="1171.50" width="5.39" height="11.20" fill="#7179b6"/>
<rect x="911.41" y="1158.30" width="5.39" height="11.20" fill="#5e7892"/>
<rect x="911.41" y="1151.70" width="5.39" height="4.60" fill="#808b37"/>
<rect x="911.41" y="1145.10" width="5.39" height="4.60" fill="#c9412e"/>
<text x="794.80" y="1060.90" font-size="9.80" fill="#c8c8c8" text-anchor="start" textLength="60.90" lengthAdjust="spacingAndGlyphs">Median: 0.94</text>
<rect x="139.00" y="1016.80" width="811.60" height="201.90" fill="none" stroke="#5a5a5a" stroke-width="1.30"/>
<line x1="136.10" y1="1210.10" x2="139.00" y2="1210.10" stroke="#444" stroke-width="1.2"/>
<text x="131.80" y="1213.70" font-size="10.40" fill="#4d4d4d" text-anchor="end">0</text>
<line x1="136.10" y1="1144.10" x2="139.00" y2="1144.10" stroke="#444" stroke-width="1.2"/>
<text x="131.80" y="1147.70" font-size="10.40" fill="#4d4d4d" text-anchor="end">10</text>
<line x1="136.10" y1="1078.10" x2="139.00" y2="1078.10" stroke="#444" stroke-width="1.2"/>
<text x="131.80" y="1081.70" font-size="10.40" fill="#4d4d4d" text-anchor="end">20</text>
<line x1="175.40" y1="1218.70" x2="175.40" y2="1221.40" stroke="#444" stroke-width="1.2"/>
<text x="175.40" y="1234.80" font-size="10.40" fill="#4d4d4d" text-anchor="middle">0.00</text>
<line x1="360.08" y1="1218.70" x2="360.08" y2="1221.40" stroke="#444" stroke-width="1.2"/>
<text x="360.08" y="1234.80" font-size="10.40" fill="#4d4d4d" text-anchor="middle">0.25</text>
<line x1="544.75" y1="1218.70" x2="544.75" y2="1221.40" stroke="#444" stroke-width="1.2"/>
<text x="544.75" y="1234.80" font-size="10.40" fill="#4d4d4d" text-anchor="middle">0.50</text>
<line x1="729.43" y1="1218.70" x2="729.43" y2="1221.40" stroke="#444" stroke-width="1.2"/>
<text x="729.43" y="1234.80" font-size="10.40" fill="#4d4d4d" text-anchor="middle">0.75</text>
<line x1="914.10" y1="1218.70" x2="914.10" y2="1221.40" stroke="#444" stroke-width="1.2"/>
<text x="914.10" y="1234.80" font-size="10.40" fill="#4d4d4d" text-anchor="middle">1.00</text>
<text x="476.20" y="1254.80" font-size="13.90" fill="#000" text-anchor="start" textLength="136.30" lengthAdjust="spacingAndGlyphs">Correlation between β</text>
<text x="0" y="0" font-size="13.9" fill="#000" transform="translate(111.60 1172.60) rotate(-90)" textLength="109.20" lengthAdjust="spacingAndGlyphs">NMR Phenotypes</text>
<line x1="908.00" y1="1279.50" x2="908.00" y2="1481.60" stroke="#b8b8b8" stroke-width="1.00" stroke-dasharray="7.90 7.90" stroke-dashoffset="10.50"/>
<rect x="865.08" y="1467.04" width="9.39" height="6.86" fill="#fff"/>
<rect x="872.47" y="1462.17" width="9.39" height="11.73" fill="#fff"/>
<rect x="879.86" y="1440.28" width="9.39" height="33.62" fill="#fff"/>
<rect x="887.25" y="1428.12" width="9.39" height="45.78" fill="#fff"/>
<rect x="894.63" y="1413.53" width="9.39" height="60.37" fill="#fff"/>
<rect x="902.02" y="1403.80" width="9.39" height="70.10" fill="#fff"/>
<rect x="909.41" y="1287.07" width="9.39" height="186.83" fill="#fff"/>
<rect x="867.08" y="1471.47" width="5.39" height="0.43" fill="#d6cb8c"/>
<rect x="867.08" y="1469.04" width="5.39" height="0.43" fill="#7099ae"/>
<rect x="874.47" y="1464.17" width="5.39" height="7.73" fill="#7099ae"/>
<rect x="881.86" y="1471.47" width="5.39" height="0.43" fill="#e6758c"/>
<rect x="881.86" y="1469.04" width="5.39" height="0.43" fill="#d6cb8c"/>
<rect x="881.86" y="1454.44" width="5.39" height="12.59" fill="#7099ae"/>
<rect x="881.86" y="1452.01" width="5.39" height="0.43" fill="#7086ae"/>
<rect x="881.86" y="1449.58" width="5.39" height="0.43" fill="#7179b6"/>
<rect x="881.86" y="1447.15" width="5.39" height="0.43" fill="#d98b3a"/>
<rect x="881.86" y="1444.72" width="5.39" height="0.43" fill="#8b7e58"/>
<rect x="881.86" y="1442.28" width="5.39" height="0.43" fill="#3d74aa"/>
<rect x="889.25" y="1471.47" width="5.39" height="0.43" fill="#e6758c"/>
<rect x="889.25" y="1469.04" width="5.39" height="0.43" fill="#d6cb8c"/>
<rect x="889.25" y="1442.28" width="5.39" height="24.75" fill="#7099ae"/>
<rect x="889.25" y="1439.85" width="5.39" height="0.43" fill="#7179b6"/>
<rect x="889.25" y="1437.42" width="5.39" height="0.43" fill="#808b37"/>
<rect x="889.25" y="1432.56" width="5.39" height="2.86" fill="#8b7e58"/>
<rect x="889.25" y="1430.12" width="5.39" height="0.43" fill="#c9412e"/>
<rect x="896.63" y="1466.60" width="5.39" height="5.30" fill="#e94fa4"/>
<rect x="896.63" y="1464.17" width="5.39" height="0.43" fill="#9dac99"/>
<rect x="896.63" y="1425.26" width="5.39" height="36.91" fill="#7099ae"/>
<rect x="896.63" y="1422.83" width="5.39" height="0.43" fill="#7179b6"/>
<rect x="896.63" y="1417.96" width="5.39" height="2.86" fill="#8b7e58"/>
<rect x="896.63" y="1415.53" width="5.39" height="0.43" fill="#664966"/>
<rect x="904.02" y="1471.47" width="5.39" height="0.43" fill="#e6758c"/>
<rect x="904.02" y="1464.17" width="5.39" height="5.30" fill="#9dac99"/>
<rect x="904.02" y="1430.12" width="5.39" height="32.05" fill="#7099ae"/>
<rect x="904.02" y="1427.69" width="5.39" height="0.43" fill="#7086ae"/>
<rect x="904.02" y="1420.40" width="5.39" height="5.30" fill="#5e7892"/>
<rect x="904.02" y="1417.96" width="5.39" height="0.43" fill="#8b7e58"/>
<rect x="904.02" y="1415.53" width="5.39" height="0.43" fill="#3d74aa"/>
<rect x="904.02" y="1405.80" width="5.39" height="7.73" fill="#c9412e"/>
<rect x="911.41" y="1469.04" width="5.39" height="2.86" fill="#e6758c"/>
<rect x="911.41" y="1464.17" width="5.39" height="2.86" fill="#d6cb8c"/>
<rect x="911.41" y="1349.87" width="5.39" height="112.30" fill="#7099ae"/>
<rect x="911.41" y="1347.44" width="5.39" height="0.43" fill="#7086ae"/>
<rect x="911.41" y="1340.14" width="5.39" height="5.30" fill="#7179b6"/>
<rect x="911.41" y="1337.71" width="5.39" height="0.43" fill="#5e7892"/>
<rect x="911.41" y="1330.41" width="5.39" height="5.30" fill="#808b37"/>
<rect x="911.41" y="1323.12" width="5.39" height="5.30" fill="#8b7e58"/>
<rect x="911.41" y="1315.82" width="5.39" height="5.30" fill="#3f8299"/>
<rect x="911.41" y="1303.66" width="5.39" height="10.16" fill="#3d74aa"/>
<rect x="911.41" y="1298.80" width="5.39" height="2.86" fill="#664966"/>
<rect x="911.41" y="1289.07" width="5.39" height="7.73" fill="#c9412e"/>
<text x="810.00" y="1355.00" font-size="10.80" fill="#c8c8c8" text-anchor="start" textLength="60.60" lengthAdjust="spacingAndGlyphs">Median: 0.99</text>
<rect x="139.00" y="1279.50" width="811.60" height="202.10" fill="none" stroke="#5a5a5a" stroke-width="1.30"/>
<line x1="136.10" y1="1472.90" x2="139.00" y2="1472.90" stroke="#444" stroke-width="1.2"/>
<text x="131.80" y="1476.50" font-size="10.40" fill="#4d4d4d" text-anchor="end">0</text>
<line x1="136.10" y1="1424.26" x2="139.00" y2="1424.26" stroke="#444" stroke-width="1.2"/>
<text x="131.80" y="1427.86" font-size="10.40" fill="#4d4d4d" text-anchor="end">20</text>
<line x1="136.10" y1="1375.62" x2="139.00" y2="1375.62" stroke="#444" stroke-width="1.2"/>
<text x="131.80" y="1379.22" font-size="10.40" fill="#4d4d4d" text-anchor="end">40</text>
<line x1="136.10" y1="1326.98" x2="139.00" y2="1326.98" stroke="#444" stroke-width="1.2"/>
<text x="131.80" y="1330.58" font-size="10.40" fill="#4d4d4d" text-anchor="end">60</text>
<line x1="175.40" y1="1481.60" x2="175.40" y2="1484.30" stroke="#444" stroke-width="1.2"/>
<text x="175.40" y="1497.70" font-size="10.40" fill="#4d4d4d" text-anchor="middle">0.00</text>
<line x1="360.08" y1="1481.60" x2="360.08" y2="1484.30" stroke="#444" stroke-width="1.2"/>
<text x="360.08" y="1497.70" font-size="10.40" fill="#4d4d4d" text-anchor="middle">0.25</text>
<line x1="544.75" y1="1481.60" x2="544.75" y2="1484.30" stroke="#444" stroke-width="1.2"/>
<text x="544.75" y="1497.70" font-size="10.40" fill="#4d4d4d" text-anchor="middle">0.50</text>
<line x1="729.43" y1="1481.60" x2="729.43" y2="1484.30" stroke="#444" stroke-width="1.2"/>
<text x="729.43" y="1497.70" font-size="10.40" fill="#4d4d4d" text-anchor="middle">0.75</text>
<line x1="914.10" y1="1481.60" x2="914.10" y2="1484.30" stroke="#444" stroke-width="1.2"/>
<text x="914.10" y="1497.70" font-size="10.40" fill="#4d4d4d" text-anchor="middle">1.00</text>
<text x="453.50" y="1518.40" font-size="13.90" fill="#000" text-anchor="start" textLength="180.30" lengthAdjust="spacingAndGlyphs">Correlation between log10(P)</text>
<text x="0" y="0" font-size="13.9" fill="#000" transform="translate(111.30 1434.90) rotate(-90)" textLength="108.30" lengthAdjust="spacingAndGlyphs">NMR phenotypes</text>
<line x1="882.20" y1="1542.30" x2="882.20" y2="1744.40" stroke="#c9c9c9" stroke-width="1.60" stroke-dasharray="7.90 7.90" stroke-dashoffset="10.50"/>
<rect x="820.59" y="1730.31" width="9.38" height="6.39" fill="#fff"/>
<rect x="827.97" y="1725.92" width="9.38" height="10.78" fill="#fff"/>
<rect x="835.36" y="1721.53" width="9.38" height="15.17" fill="#fff"/>
<rect x="842.74" y="1712.75" width="9.38" height="23.95" fill="#fff"/>
<rect x="850.13" y="1703.97" width="9.38" height="32.73" fill="#fff"/>
<rect x="857.51" y="1664.46" width="9.38" height="72.24" fill="#fff"/>
<rect x="864.90" y="1638.12" width="9.38" height="98.58" fill="#fff"/>
<rect x="872.28" y="1646.90" width="9.38" height="89.80" fill="#fff"/>
<rect x="879.67" y="1550.32" width="9.38" height="186.38" fill="#fff"/>
<rect x="887.05" y="1616.17" width="9.38" height="120.53" fill="#fff"/>
<rect x="894.44" y="1655.68" width="9.38" height="81.02" fill="#fff"/>
<rect x="901.82" y="1717.14" width="9.38" height="19.56" fill="#fff"/>
<rect x="909.21" y="1730.31" width="9.38" height="6.39" fill="#fff"/>
<rect x="822.59" y="1732.31" width="5.38" height="2.39" fill="#7086ae"/>
<rect x="829.97" y="1727.92" width="5.38" height="6.78" fill="#3f9146"/>
<rect x="837.36" y="1732.31" width="5.38" height="2.39" fill="#7086ae"/>
<rect x="837.36" y="1727.92" width="5.38" height="2.39" fill="#8b7e58"/>
<rect x="837.36" y="1723.53" width="5.38" height="2.39" fill="#c9412e"/>
<rect x="844.74" y="1732.31" width="5.38" height="2.39" fill="#e94fa4"/>
<rect x="844.74" y="1723.53" width="5.38" height="6.78" fill="#7099ae"/>
<rect x="844.74" y="1719.14" width="5.38" height="2.39" fill="#8b7e58"/>
<rect x="844.74" y="1714.75" width="5.38" height="2.39" fill="#3d74aa"/>
<rect x="852.13" y="1714.75" width="5.38" height="19.95" fill="#7099ae"/>
<rect x="852.13" y="1710.36" width="5.38" height="2.39" fill="#8b7e58"/>
<rect x="852.13" y="1705.97" width="5.38" height="2.39" fill="#c9412e"/>
<rect x="859.51" y="1732.31" width="5.38" height="2.39" fill="#e94fa4"/>
<rect x="859.51" y="1688.41" width="5.38" height="41.90" fill="#7099ae"/>
<rect x="859.51" y="1684.02" width="5.38" height="2.39" fill="#7086ae"/>
<rect x="859.51" y="1670.85" width="5.38" height="11.17" fill="#8b7e58"/>
<rect x="859.51" y="1666.46" width="5.38" height="2.39" fill="#c9412e"/>
<rect x="866.90" y="1732.31" width="5.38" height="2.39" fill="#d6cb8c"/>
<rect x="866.90" y="1727.92" width="5.38" height="2.39" fill="#9dac99"/>
<rect x="866.90" y="1666.46" width="5.38" height="59.46" fill="#7099ae"/>
<rect x="866.90" y="1662.07" width="5.38" height="2.39" fill="#5e7892"/>
<rect x="866.90" y="1657.68" width="5.38" height="2.39" fill="#d98b3a"/>
<rect x="866.90" y="1648.90" width="5.38" height="6.78" fill="#3f8299"/>
<rect x="866.90" y="1644.51" width="5.38" height="2.39" fill="#664966"/>
<rect x="866.90" y="1640.12" width="5.38" height="2.39" fill="#c9412e"/>
<rect x="874.28" y="1732.31" width="5.38" height="2.39" fill="#e6758c"/>
<rect x="874.28" y="1727.92" width="5.38" height="2.39" fill="#d6cb8c"/>
<rect x="874.28" y="1679.63" width="5.38" height="46.29" fill="#7099ae"/>
<rect x="874.28" y="1675.24" width="5.38" height="2.39" fill="#7179b6"/>
<rect x="874.28" y="1670.85" width="5.38" height="2.39" fill="#5e7892"/>
<rect x="874.28" y="1666.46" width="5.38" height="2.39" fill="#808b37"/>
<rect x="874.28" y="1657.68" width="5.38" height="6.78" fill="#3d74aa"/>
<rect x="874.28" y="1648.90" width="5.38" height="6.78" fill="#c9412e"/>
<rect x="881.67" y="1732.31" width="5.38" height="2.39" fill="#e94fa4"/>
<rect x="881.67" y="1719.14" width="5.38" height="11.17" fill="#e6758c"/>
<rect x="881.67" y="1710.36" width="5.38" height="6.78" fill="#d6cb8c"/>
<rect x="881.67" y="1705.97" width="5.38" height="2.39" fill="#9dac99"/>
<rect x="881.67" y="1591.83" width="5.38" height="112.14" fill="#7099ae"/>
<rect x="881.67" y="1587.44" width="5.38" height="2.39" fill="#7086ae"/>
<rect x="881.67" y="1583.05" width="5.38" height="2.39" fill="#7179b6"/>
<rect x="881.67" y="1578.66" width="5.38" height="2.39" fill="#3e8b66"/>
<rect x="881.67" y="1574.27" width="5.38" height="2.39" fill="#3f9146"/>
<rect x="881.67" y="1569.88" width="5.38" height="2.39" fill="#808b37"/>
<rect x="881.67" y="1565.49" width="5.38" height="2.39" fill="#3f8299"/>
<rect x="881.67" y="1561.10" width="5.38" height="2.39" fill="#3d74aa"/>
<rect x="881.67" y="1552.32" width="5.38" height="6.78" fill="#c9412e"/>
<rect x="889.05" y="1732.31" width="5.38" height="2.39" fill="#e94fa4"/>
<rect x="889.05" y="1723.53" width="5.38" height="6.78" fill="#9dac99"/>
<rect x="889.05" y="1648.90" width="5.38" height="72.63" fill="#7099ae"/>
<rect x="889.05" y="1644.51" width="5.38" height="2.39" fill="#7086ae"/>
<rect x="889.05" y="1640.12" width="5.38" height="2.39" fill="#808b37"/>
<rect x="889.05" y="1631.34" width="5.38" height="6.78" fill="#8b7e58"/>
<rect x="889.05" y="1626.95" width="5.38" height="2.39" fill="#3f8299"/>
<rect x="889.05" y="1622.56" width="5.38" height="2.39" fill="#3d74aa"/>
<rect x="889.05" y="1618.17" width="5.38" height="2.39" fill="#664966"/>
<rect x="896.44" y="1684.02" width="5.38" height="50.68" fill="#7099ae"/>
<rect x="896.44" y="1675.24" width="5.38" height="6.78" fill="#3f9146"/>
<rect x="896.44" y="1670.85" width="5.38" height="2.39" fill="#808b37"/>
<rect x="896.44" y="1662.07" width="5.38" height="6.78" fill="#3d74aa"/>
<rect x="896.44" y="1657.68" width="5.38" height="2.39" fill="#c9412e"/>
<rect x="903.82" y="1732.31" width="5.38" height="2.39" fill="#7086ae"/>
<rect x="903.82" y="1723.53" width="5.38" height="6.78" fill="#7179b6"/>
<rect x="903.82" y="1719.14" width="5.38" height="2.39" fill="#d98b3a"/>
<rect x="911.21" y="1732.31" width="5.38" height="2.39" fill="#c9412e"/>
<text x="768.60" y="1607.20" font-size="10.80" fill="#c8c8c8" text-anchor="start" textLength="69.50" lengthAdjust="spacingAndGlyphs">Median: 95.6%</text>
<rect x="139.00" y="1542.30" width="811.60" height="202.10" fill="none" stroke="#5a5a5a" stroke-width="1.30"/>
<line x1="136.10" y1="1735.70" x2="139.00" y2="1735.70" stroke="#444" stroke-width="1.2"/>
<text x="131.80" y="1739.30" font-size="10.40" fill="#4d4d4d" text-anchor="end">0</text>
<line x1="136.10" y1="1691.80" x2="139.00" y2="1691.80" stroke="#444" stroke-width="1.2"/>
<text x="131.80" y="1695.40" font-size="10.40" fill="#4d4d4d" text-anchor="end">10</text>
<line x1="136.10" y1="1647.90" x2="139.00" y2="1647.90" stroke="#444" stroke-width="1.2"/>
<text x="131.80" y="1651.50" font-size="10.40" fill="#4d4d4d" text-anchor="end">20</text>
<line x1="136.10" y1="1604.00" x2="139.00" y2="1604.00" stroke="#444" stroke-width="1.2"/>
<text x="131.80" y="1607.60" font-size="10.40" fill="#4d4d4d" text-anchor="end">30</text>
<line x1="136.10" y1="1560.10" x2="139.00" y2="1560.10" stroke="#444" stroke-width="1.2"/>
<text x="131.80" y="1563.70" font-size="10.40" fill="#4d4d4d" text-anchor="end">40</text>
<line x1="175.40" y1="1744.40" x2="175.40" y2="1747.10" stroke="#444" stroke-width="1.2"/>
<text x="175.40" y="1760.50" font-size="10.40" fill="#4d4d4d" text-anchor="middle">0</text>
<line x1="360.02" y1="1744.40" x2="360.02" y2="1747.10" stroke="#444" stroke-width="1.2"/>
<text x="360.02" y="1760.50" font-size="10.40" fill="#4d4d4d" text-anchor="middle">25</text>
<line x1="544.65" y1="1744.40" x2="544.65" y2="1747.10" stroke="#444" stroke-width="1.2"/>
<text x="544.65" y="1760.50" font-size="10.40" fill="#4d4d4d" text-anchor="middle">50</text>
<line x1="729.27" y1="1744.40" x2="729.27" y2="1747.10" stroke="#444" stroke-width="1.2"/>
<text x="729.27" y="1760.50" font-size="10.40" fill="#4d4d4d" text-anchor="middle">75</text>
<line x1="913.90" y1="1744.40" x2="913.90" y2="1747.10" stroke="#444" stroke-width="1.2"/>
<text x="913.90" y="1760.50" font-size="10.40" fill="#4d4d4d" text-anchor="middle">100</text>
<text x="364.50" y="1780.30" font-size="13.90" fill="#000" text-anchor="start" textLength="361.30" lengthAdjust="spacingAndGlyphs">Percentage of mQTLs reaching genome-wide significance</text>
<text x="0" y="0" font-size="13.9" fill="#000" transform="translate(111.80 1688.70) rotate(-90)" textLength="89.70" lengthAdjust="spacingAndGlyphs">№ phenotypes</text>
<text x="16.70" y="1854.60" font-size="19.50" fill="#000" text-anchor="start" textLength="58.30" lengthAdjust="spacingAndGlyphs">Group</text>
<rect x="83.80" y="1808.20" width="8.5" height="11.7" fill="#c9412e"/>
<text x="99.80" y="1820.40" font-size="15.40" fill="#000" text-anchor="start" textLength="90.70" lengthAdjust="spacingAndGlyphs">Amino acids</text>
<rect x="83.80" y="1830.70" width="8.5" height="11.7" fill="#664966"/>
<text x="99.80" y="1842.60" font-size="15.40" fill="#000" text-anchor="start" textLength="117.20" lengthAdjust="spacingAndGlyphs">Apolipoproteins</text>
<rect x="83.80" y="1853.20" width="8.5" height="11.7" fill="#3d74aa"/>
<text x="99.80" y="1864.80" font-size="15.40" fill="#000" text-anchor="start" textLength="83.90" lengthAdjust="spacingAndGlyphs">Cholesterol</text>
<rect x="83.80" y="1875.70" width="8.5" height="11.7" fill="#3f8299"/>
<text x="99.80" y="1887.00" font-size="15.40" fill="#000" text-anchor="start" textLength="130.10" lengthAdjust="spacingAndGlyphs">Cholesteryl esters</text>
<rect x="237.90" y="1808.20" width="8.5" height="11.7" fill="#8b7e58"/>
<text x="254.20" y="1820.40" font-size="15.40" fill="#000" text-anchor="start" textLength="80.20" lengthAdjust="spacingAndGlyphs">Fatty acids</text>
<rect x="237.90" y="1830.70" width="8.5" height="11.7" fill="#d98b3a"/>
<text x="254.20" y="1842.60" font-size="15.40" fill="#000" text-anchor="start" textLength="98.70" lengthAdjust="spacingAndGlyphs">Fluid balance</text>
<rect x="237.90" y="1853.20" width="8.5" height="11.7" fill="#808b37"/>
<text x="254.20" y="1864.80" font-size="15.40" fill="#000" text-anchor="start" textLength="117.80" lengthAdjust="spacingAndGlyphs">Free cholesterol</text>
<rect x="237.90" y="1875.70" width="8.5" height="11.7" fill="#3f9146"/>
<text x="254.20" y="1887.00" font-size="15.40" fill="#000" text-anchor="start" textLength="216.20" lengthAdjust="spacingAndGlyphs">Glycolysis related metabolites</text>
<rect x="477.70" y="1808.20" width="8.5" height="11.7" fill="#3e8b66"/>
<text x="494.50" y="1820.40" font-size="15.40" fill="#000" text-anchor="start" textLength="92.70" lengthAdjust="spacingAndGlyphs">Inflammation</text>
<rect x="477.70" y="1830.70" width="8.5" height="11.7" fill="#5e7892"/>
<text x="494.50" y="1842.60" font-size="15.40" fill="#000" text-anchor="start" textLength="107.20" lengthAdjust="spacingAndGlyphs">Ketone bodies</text>
<rect x="477.70" y="1853.20" width="8.5" height="11.7" fill="#7179b6"/>
<text x="494.50" y="1864.80" font-size="15.40" fill="#000" text-anchor="start" textLength="252.00" lengthAdjust="spacingAndGlyphs">Lipoprotein particle concentrations</text>
<rect x="477.70" y="1875.70" width="8.5" height="11.7" fill="#7086ae"/>
<text x="494.50" y="1887.00" font-size="15.40" fill="#000" text-anchor="start" textLength="181.30" lengthAdjust="spacingAndGlyphs">Lipoprotein particle sizes</text>
<rect x="754.10" y="1808.20" width="8.5" height="11.7" fill="#7099ae"/>
<text x="769.90" y="1820.40" font-size="15.40" fill="#000" text-anchor="start" textLength="169.20" lengthAdjust="spacingAndGlyphs">Lipoprotein subclasses</text>
<rect x="754.10" y="1830.70" width="8.5" height="11.7" fill="#9dac99"/>
<text x="769.90" y="1842.60" font-size="15.40" fill="#000" text-anchor="start" textLength="85.50" lengthAdjust="spacingAndGlyphs">Other lipids</text>
<rect x="754.10" y="1853.20" width="8.5" height="11.7" fill="#d6cb8c"/>
<text x="769.90" y="1864.80" font-size="15.40" fill="#000" text-anchor="start" textLength="106.20" lengthAdjust="spacingAndGlyphs">Phospholipids</text>
<rect x="754.10" y="1875.70" width="8.5" height="11.7" fill="#e6758c"/>
<text x="769.90" y="1887.00" font-size="15.40" fill="#000" text-anchor="start" textLength="79.10" lengthAdjust="spacingAndGlyphs">Total lipids</text>
<rect x="946.20" y="1808.20" width="8.5" height="11.7" fill="#e94fa4"/>
<text x="962.70" y="1820.40" font-size="15.40" fill="#000" text-anchor="start" textLength="90.90" lengthAdjust="spacingAndGlyphs">Triglycerides</text>
</svg></body></html>
